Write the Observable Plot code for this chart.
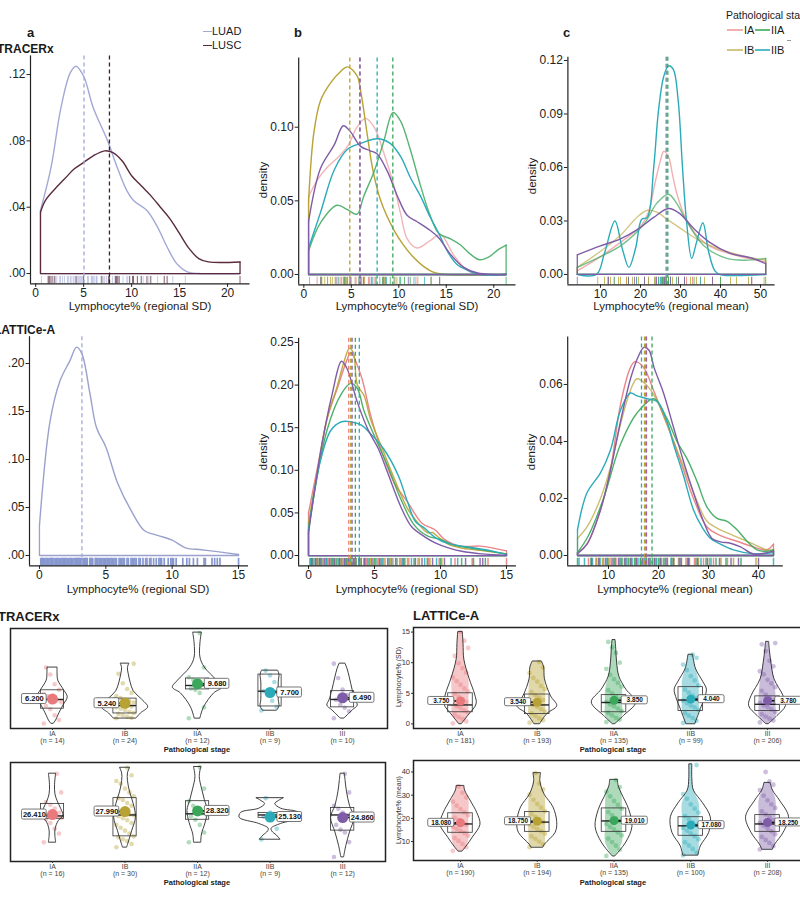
<!DOCTYPE html>
<html><head><meta charset="utf-8">
<script src="https://cdn.jsdelivr.net/npm/d3@7"></script>
<script src="https://cdn.jsdelivr.net/npm/@observablehq/plot@0.6"></script>
<style>
body{margin:0;background:#fff;font-family:"Liberation Sans",Arial,sans-serif;}
#page{position:relative;width:800px;height:898px;overflow:hidden;background:#fff;}
.pan{position:absolute;}
.lbl{position:absolute;white-space:nowrap;color:#1a1a1a;line-height:1;}
</style></head><body><div id="page"></div>
<script>
// ---------------- DATA ----------------
const stages = ["IA","IB","IIA","IIB","III"];
const stageColors = ["#E8797C","#B7A233","#3AA75A","#2BABB8","#7F5CA8"];

// Panel a (TRACERx) density of regional SD by histology
const luadSdDensity = [[0.5,0.038],[1.6,0.064],[2.6,0.099],[3.6,0.121],[4.2,0.125],[5,0.119],[6,0.1],[7.5,0.08],[8.5,0.064],[9.5,0.05],[10.2,0.044],[11.6,0.038],[12.7,0.028],[13.7,0.016],[14.7,0.006],[15.8,0.001],[17,0],[21.3,0]];
const luscSdDensity = [[0.5,0.037],[1,0.044],[2,0.051],[3,0.057],[4,0.063],[5,0.067],[6,0.071],[7.2,0.074],[8,0.073],[9,0.068],[10,0.059],[11,0.053],[12,0.047],[13,0.04],[14,0.033],[15,0.024],[16,0.015],[17,0.009],[18,0.007],[21.3,0.007]];
const luadSdRug = [0.6,1.8,1.9,2.2,2.5,2.6,2.8,3.0,3.3,3.4,3.6,3.7,3.9,4.0,4.3,4.4,4.5,4.6,4.7,4.8,4.9,5.4,5.5,5.8,5.85,5.9,6.0,6.1,6.3,6.35,6.4,6.8,7.1,7.2,7.4,8.0,8.6,9.1,9.5,9.6,11.2,11.8,12.7,14.3,15.6];
const luscSdRug = [1.3,1.4,1.5,1.7,2.0,4.2,5.0,6.9,7.6,7.7,8.3,8.4,8.5,8.7,9.8,10.1,10.2,10.6,11.0,11.6,12.0,13.4,13.7,21.3];
const histMedians = [5.04, 7.69];

// TRACERx per-tumour values by stage (IA, IB, IIA, IIB, III)
const tsSdValues = [
  [0.6,1.4,2.5,3.9,4.6,5.5,5.9,6.3,6.8,7.4,8.3,9.6,11.8,13.4],
  [1.8,1.9,2.2,2.5,2.8,3.0,3.3,3.7,4.0,4.3,4.5,4.6,4.8,5.0,5.4,5.8,6.1,6.4,6.9,7.6,8.5,9.8,12.0,14.3],
  [1.8,4.3,7.6,8.3,8.6,9.1,9.5,10.2,10.6,11.2,13.4,21.3],
  [3.6,4.4,5.8,7.2,8.0,8.7,10.1,11.6,12.7],
  [1.8,3.4,4.2,4.9,6.0,6.3,7.1,8.4,11.0,14.3]
];
const tsMeanValues = [
  [11.9,16.5,19.0,22.0,24.0,24.6,25.2,25.6,25.8,26.3,27.5,29.5,31.5,33.0,38.0,47.8],
  [9.3,11,12.5,13.5,14.5,15,16.5,18,19.5,21,22,23.5,24.5,25.5,26,26.4,27,28,29.5,31,32.5,34,35,36,38,40,42.5,44,47,50.9],
  [11.9,17,21,23.7,25.5,26.5,27,29,31,33.4,40,51.3],
  [13.4,19,24.5,25,25.3,25.8,26.2,27.5,35],
  [4.2,12,17,18.5,21,24,26,27.5,29.5,31,38,47.8]
];
// TRACERx density curves by stage
const tsSdDensity = [
  [[0.5,0.053],[1.5,0.065],[2.5,0.073],[3.5,0.079],[4.6,0.087],[5.6,0.1],[6.5,0.106],[7.4,0.1],[8.4,0.083],[9.5,0.06],[10.2,0.041],[10.9,0.024],[11.9,0.018],[13.3,0.023],[14.4,0.027],[15.8,0.013],[17.2,0.003],[18.5,0],[21.3,0]],
  [[0.5,0.05],[1.05,0.096],[1.75,0.118],[2.8,0.13],[3.9,0.138],[4.6,0.141],[5.6,0.135],[6,0.124],[6.7,0.094],[7.3,0.07],[8.1,0.05],[9.5,0.03],[10.5,0.02],[11.5,0.012],[12.5,0.006],[13.5,0.002],[15,0],[21.3,0]],
  [[0.5,0.016],[1.75,0.035],[3.5,0.047],[4.6,0.044],[5.6,0.041],[6.3,0.053],[7.4,0.07],[8.4,0.09],[9.4,0.11],[10.2,0.104],[11.2,0.085],[12.3,0.06],[13.3,0.04],[14.2,0.028],[15.5,0.024],[16.5,0.02],[17.5,0.014],[18.5,0.01],[19.5,0.012],[20.5,0.017],[21.3,0.02]],
  [[0.5,0.018],[1.75,0.042],[3.2,0.071],[4.6,0.085],[6,0.089],[7.4,0.092],[8.1,0.092],[9.1,0.089],[10.2,0.08],[11.2,0.066],[12.3,0.053],[13.3,0.039],[14.2,0.028],[15.1,0.016],[16.1,0.007],[17.2,0.003],[18.6,0],[21.3,0]],
  [[0.5,0.036],[1.75,0.072],[3.2,0.088],[4.16,0.101],[4.9,0.097],[5.97,0.087],[7,0.084],[7.7,0.082],[8.8,0.07],[9.8,0.054],[10.9,0.04],[11.9,0.036],[13.3,0.03],[14.2,0.025],[15.4,0.014],[16.8,0.005],[18.3,0.001],[20,0],[21.3,0]]
];
const tsSdMedians = [5.88, 4.84, 9.37, 7.72, 5.92];
const tsMeanDensity = [
  [[4.2,0.002],[10,0.01],[15,0.018],[20,0.027],[22,0.035],[23.5,0.05],[25,0.064],[25.8,0.069],[27,0.066],[28,0.056],[29,0.046],[31,0.033],[34,0.022],[38,0.015],[45,0.01],[51.3,0.007]],
  [[4.2,0.004],[10,0.013],[15,0.022],[19.1,0.032],[21.7,0.036],[24.1,0.035],[26.6,0.031],[29.9,0.026],[34,0.02],[39.9,0.014],[46.5,0.01],[51.3,0.008]],
  [[4.2,0.004],[10,0.01],[15,0.016],[20.8,0.028],[24.1,0.04],[27,0.045],[29,0.04],[31.5,0.03],[35.9,0.016],[41.6,0.009],[46,0.008],[51.3,0.009]],
  [[4.2,0],[9,0],[11,0.012],[13.6,0.03],[15.5,0.014],[17.1,0.004],[18.8,0.015],[20.3,0.031],[21.7,0.032],[23.3,0.06],[24.5,0.092],[25.8,0.111],[27,0.117],[28.2,0.115],[29.4,0.098],[30.5,0.06],[31.5,0.03],[32.8,0.009],[34,0.018],[35.6,0.029],[37,0.013],[38.6,0.002],[39.9,0],[51.3,0]],
  [[4.2,0.011],[10,0.016],[15,0.02],[19.1,0.025],[23.3,0.032],[27,0.037],[29.9,0.034],[33.2,0.026],[37.3,0.018],[42.3,0.012],[48.1,0.009],[51.3,0.006]]
];
const tsMeanMedians = [26.3, 26.6, 26.9, 26.5, 26.7];

// LATTICe-A
const latSdAllDensity = [[0,0.031],[0.8,0.14],[1.55,0.182],[2.3,0.203],[2.8,0.217],[3.2,0.21],[3.8,0.169],[4.3,0.133],[5,0.113],[5.9,0.075],[6.9,0.047],[7.9,0.026],[8.9,0.021],[10,0.016],[11,0.008],[12.2,0.006],[13.4,0.004],[15,0.001]];
const latSdAllMedian = 3.2;
const latSdValues = [
  [0.1,0.4,0.8,1.1,1.5,1.9,2.2,2.6,2.9,3.3,3.6,4.0,4.4,4.9,5.3,5.8,6.4,7.0,7.6,8.4,9.1,9.9,11.1,12.4,13.6,15.0],
  [0.2,0.6,0.9,1.3,1.7,2.0,2.4,2.8,3.1,3.5,3.9,4.3,4.7,5.2,5.7,6.2,6.9,7.5,8.3,9.2,10.1],
  [0.3,0.7,1.0,1.4,1.8,2.1,2.5,2.9,3.2,3.6,4.0,4.5,5.0,5.5,6.1,6.7,7.3,8.0,9.0,10.0,11.6,12.5,13.4],
  [0.15,0.5,0.95,1.35,1.75,2.3,2.7,3.0,3.4,3.8,4.2,4.6,5.1,5.6,6.3,7.1,7.8,8.8,9.7,10.8,11.3],
  [0.25,0.55,0.85,1.2,1.6,1.95,2.35,2.75,3.05,3.45,3.85,4.25,4.8,5.4,6.0,6.6,7.2,8.1,8.6,9.4,10.3,11.9,13.0,13.2]
];
const latMeanValues = [
  [6.0,7.5,9.0,10.3,11.5,12.6,13.7,14.6,15.5,16.4,17.3,18.2,19.2,20.3,21.4,22.6,24.0,25.5,27.2,29.0,31.0,33.8],
  [7.6,8.8,10.0,11.2,12.3,13.4,14.4,15.4,16.4,17.4,18.4,19.5,20.6,21.8,23.1,24.6,26.2,28.0,30.2,32.5,35.0,39.5],
  [3.8,6.5,8.2,9.8,11.3,12.7,14.0,15.2,16.4,17.6,18.8,20.0,21.3,22.7,24.2,25.8,27.5,29.5,31.5,33.5,36.5],
  [4.1,5.2,6.8,8.3,9.7,11.0,12.3,13.5,14.7,15.9,17.1,18.3,19.6,21.0,22.5,24.2,26.0,28.5,30.5,43.0],
  [6.6,8.0,9.4,10.7,12.0,13.2,14.4,15.6,16.8,18.0,19.2,20.4,21.7,23.0,24.5,26.0,27.8,29.8,32.2,34.5,36.0,40.0]
];
const latSdDensity = [
  [[0,0.05],[0.7,0.105],[1.4,0.16],[2.2,0.197],[2.9,0.229],[3.2,0.238],[4,0.21],[4.7,0.165],[5.5,0.124],[6.5,0.085],[7.5,0.063],[8.6,0.038],[9.6,0.03],[10.3,0.019],[11.5,0.011],[13,0.011],[15,0.0055]],
  [[0,0.039],[0.7,0.1],[1.4,0.16],[2.2,0.2],[2.7,0.228],[3.1,0.243],[3.4,0.238],[3.7,0.2],[4.2,0.188],[4.7,0.16],[5.5,0.129],[6.5,0.09],[7.5,0.055],[8.2,0.04],[9,0.027],[9.4,0.027],[9.8,0.022],[10.5,0.014],[11.5,0.009],[13,0.006],[15,0.002]],
  [[0,0.03],[1.4,0.147],[2.5,0.19],[3.2,0.202],[3.7,0.196],[4.2,0.17],[5,0.14],[6,0.105],[7,0.066],[8,0.036],[9,0.023],[10,0.019],[11.1,0.012],[12.6,0.008],[14.1,0.004],[15,0.002]],
  [[0,0.03],[0.9,0.111],[1.7,0.147],[2.5,0.157],[3.2,0.157],[4,0.153],[4.7,0.143],[5.7,0.125],[6.8,0.094],[7.5,0.063],[8.1,0.04],[8.8,0.032],[9.6,0.021],[10.6,0.014],[12.1,0.01],[13.7,0.006],[15,0.001]],
  [[0,0.026],[0.9,0.12],[1.8,0.19],[2.5,0.228],[2.9,0.22],[3.7,0.18],[4.5,0.148],[5.3,0.125],[6,0.097],[7,0.057],[7.8,0.034],[8.8,0.022],[9.6,0.015],[10.6,0.009],[11.6,0.005],[13.1,0.002],[15,0.0005]]
];
const latSdMedians = [3.05, 3.2, 3.55, 3.85, 3.3];
const latMeanDensity = [
  [[3.8,0.001],[5.7,0.004],[8.4,0.016],[10.4,0.03],[12.4,0.053],[14.4,0.066],[15.3,0.068],[17,0.066],[19,0.058],[21,0.049],[23,0.04],[25,0.03],[27,0.02],[29.7,0.01],[32.4,0.007],[35.7,0.005],[39,0.003],[41.7,0.002],[43,0.004]],
  [[3.8,0.006],[5.7,0.01],[8.4,0.02],[10.4,0.031],[12.4,0.046],[14.4,0.058],[15.7,0.062],[17.5,0.06],[19.5,0.055],[21.5,0.047],[23.5,0.038],[25.5,0.029],[27.5,0.02],[29.7,0.012],[32.4,0.009],[35,0.007],[39,0.004],[41.7,0.002],[43,0.002]],
  [[3.8,0.001],[6,0.007],[9,0.02],[12.4,0.039],[15.7,0.05],[19.1,0.055],[21.7,0.048],[23.7,0.04],[25.7,0.034],[27.7,0.026],[29.7,0.017],[31.7,0.013],[33.7,0.012],[35.7,0.009],[37.7,0.005],[39.7,0.002],[41.7,0.0015],[43,0.002]],
  [[3.8,0.009],[5.7,0.022],[8.4,0.029],[10.4,0.037],[12.4,0.051],[14.4,0.057],[15.7,0.056],[17.7,0.055],[19.7,0.054],[21.7,0.047],[23,0.039],[25,0.028],[27,0.016],[28.7,0.01],[30.4,0.006],[32.4,0.004],[35,0.002],[39,0.0006],[43,0.001]],
  [[3.8,0.0006],[5.7,0.004],[8.4,0.016],[10.4,0.03],[12.4,0.047],[14.4,0.062],[16,0.07],[17.1,0.073],[18.1,0.072],[19.1,0.066],[21,0.057],[23,0.045],[25,0.033],[27,0.022],[29,0.012],[30.7,0.006],[32.4,0.0048],[34.4,0.0043],[36.4,0.003],[39,0.0005],[41.7,0.001],[43,0.0015]]
];
const latMeanMedians = [17.6, 17.2, 18.7, 16.6, 17.5];

// Violin summaries: shapes [value, half-width], boxes [q1, median, q3], means
const tsSdShapes = [
  [[0.6,0.02],[1.3,0.05],[2.4,0.08],[4.7,0.15],[6.6,0.21],[8.2,0.16],[10.4,0.08],[12,0.07],[13.4,0.07]],
  [[1.8,0.16],[2.9,0.22],[4.3,0.32],[5.5,0.27],[6.6,0.2],[8,0.12],[9.8,0.08],[12,0.05],[13.3,0.04],[14.3,0.06]],
  [[1.8,0.04],[4.3,0.09],[7.5,0.23],[8.8,0.34],[10.4,0.27],[13.4,0.1],[15.7,0.04],[18.9,0.04],[21.4,0.06]],
  [[3.6,0.1],[4.5,0.13],[6,0.12],[8,0.12],[10,0.12],[11.8,0.13],[12.7,0.11]],
  [[1.8,0.03],[3.6,0.14],[4.7,0.21],[5.9,0.18],[8.2,0.14],[11.1,0.1],[13,0.07],[14.3,0.04]]
];
const tsSdBoxes = [[4.0,6.1,8.2],[2.9,4.7,6.3],[8.4,9.3,10.9],[4.5,8.0,11.8],[4.3,6.1,8.0]];
const tsSdMeans = [6.20, 5.24, 9.68, 7.70, 6.49];
const tsSdN = [14, 24, 12, 9, 10];

const tsMeanShapes = [
  [[11.9,0.05],[15,0.04],[18,0.04],[21,0.06],[23.2,0.09],[25.7,0.15],[29.3,0.12],[33.4,0.07],[37,0.04],[42,0.035],[47.8,0.05]],
  [[9.3,0.03],[12.9,0.06],[18,0.1],[24.7,0.15],[31.9,0.12],[38,0.07],[44,0.04],[48,0.04],[50.9,0.07]],
  [[11.9,0.05],[16,0.06],[22,0.11],[28.3,0.14],[34,0.1],[40,0.06],[46,0.03],[51.3,0.05]],
  [[13.4,0.14],[15.5,0.09],[17.5,0.03],[19,0.02],[21.5,0.15],[24.7,0.42],[27.3,0.4],[29.5,0.15],[31.9,0.07],[33.5,0.12],[35,0.19]],
  [[4.2,0.02],[10,0.05],[17,0.1],[24.7,0.16],[31,0.1],[38,0.06],[44,0.04],[47.8,0.03]]
];
const tsMeanBoxes = [[24.2,25.7,31.9],[15,26.2,35],[23.7,26.8,33.4],[24.7,26.2,27.3],[18,26.2,29.8]];
const tsMeanMeans = [26.41, 27.99, 28.32, 25.13, 24.86];
const tsMeanN = [16, 30, 12, 9, 12];

const latSdShapes = [
  [[0,0.02],[1.3,0.1],[3.2,0.21],[4.8,0.19],[7.3,0.12],[10.5,0.05],[13,0.04],[15,0.03]],
  [[0,0.04],[1.6,0.13],[2.9,0.26],[4.5,0.18],[7.3,0.1],[9.2,0.09],[10.2,0.06]],
  [[0,0.02],[1.3,0.13],[3.5,0.29],[5.6,0.16],[7.7,0.07],[10,0.04],[12,0.03],[13.7,0.02]],
  [[0,0.06],[2.4,0.13],[4,0.18],[5.6,0.21],[6.9,0.16],[8.9,0.07],[10.5,0.04],[11.3,0.03]],
  [[0,0.02],[1.3,0.13],[2.9,0.24],[4.5,0.21],[7.3,0.09],[10,0.05],[12,0.03],[13.4,0.02]]
];
const latSdBoxes = [[1.9,3.1,5.0],[1.6,3.1,4.8],[1.9,3.5,4.7],[2.1,3.9,6.0],[2.1,3.2,4.5]];
const latSdMeans = [3.75, 3.54, 3.85, 4.04, 3.78];
const latSdN = [181, 193, 135, 99, 206];

const latMeanShapes = [
  [[5.8,0.03],[7.9,0.08],[11.7,0.16],[17.2,0.26],[22.2,0.22],[27.7,0.13],[32,0.06],[34,0.05]],
  [[7.5,0.08],[8.7,0.1],[13.8,0.24],[18.4,0.26],[24.8,0.21],[30,0.1],[33.2,0.06],[36,0.04],[39.5,0.05]],
  [[3.7,0.02],[9.6,0.16],[16.3,0.24],[23.5,0.2],[30.7,0.1],[34,0.06],[36.6,0.05]],
  [[4.1,0.1],[7.9,0.13],[13.8,0.24],[20.5,0.26],[26.5,0.16],[32,0.04],[37,0.02],[43.3,0.02]],
  [[6.6,0.07],[8.7,0.1],[13.8,0.21],[20.5,0.28],[27.7,0.16],[32,0.07],[35.3,0.04]]
];
const latMeanBoxes = [[13.8,17.6,22.2],[14.2,18.4,22.7],[14.2,18.9,24.3],[12.5,16.8,20.5],[14.2,17.6,21.4]];
const latMeanMeans = [18.08, 18.75, 19.01, 17.08, 18.25];
const latMeanN = [190, 194, 135, 100, 208];

// ---------------- HELPERS ----------------
const page = document.getElementById("page");
const FONT = "'Liberation Sans', Arial, sans-serif";
function addText(txt, left, top, css) {
  const d = document.createElement("div"); d.className = "lbl"; d.textContent = txt;
  d.style.left = left + "px"; d.style.top = top + "px"; Object.assign(d.style, css || {});
  page.appendChild(d); return d;
}
function addCentered(txt, cx, cy, css) {
  const d = addText(txt, cx, cy, css); d.style.transform = "translate(-50%,-50%)"; return d;
}
function addRotated(txt, cx, cy, css) {
  const d = addText(txt, cx, cy, css); d.style.transform = "translate(-50%,-50%) rotate(-90deg)"; return d;
}
function legendKey(x, y, w, color, h, op) {
  const d = document.createElement("div");
  Object.assign(d.style, {position:"absolute", left:x+"px", top:(y-(h||1.5)/2)+"px", width:w+"px", height:(h||1.5)+"px", background:color, opacity: op ?? 1});
  page.appendChild(d);
}
function mount(svg, left, top, width) {
  const div = document.createElement("div"); div.className = "pan";
  div.style.left = left + "px"; div.style.top = top + "px"; div.style.width = width + "px";
  div.appendChild(svg); page.appendChild(div);
}

function densityPanel(o) {
  const [yl, yh] = o.yDomain;
  const rugTop = yl + 0.033 * (yh - yl);
  const marks = [];
  o.rugs.forEach(r => marks.push(Plot.ruleX(r.values, {x: d => d, y1: () => yl, y2: () => rugTop, stroke: r.color, strokeOpacity: r.opacity ?? 0.85, strokeWidth: o.rugWidth ?? 0.9})));
  o.curves.forEach(c => {
    const p = c.pts, f = p[0], l = p[p.length - 1];
    marks.push(Plot.line([l, [l[0], 0], [f[0], 0], f], {x: d => d[0], y: d => d[1], stroke: c.color, strokeOpacity: c.opacity ?? 1, strokeWidth: 1.3}));
    marks.push(Plot.line(p, {x: d => d[0], y: d => d[1], curve: "catmull-rom", stroke: c.color, strokeOpacity: c.opacity ?? 1, strokeWidth: c.width ?? 1.4}));
  });
  o.vlines.forEach(v => marks.push(Plot.ruleX([v.x], {stroke: v.color, strokeDasharray: "4,3", strokeWidth: 1.3, strokeOpacity: o.vOpacity ?? 1})));
  marks.push(Plot.ruleX([o.xDomain[0]], {stroke: "#222", strokeWidth: 1.2}));
  marks.push(Plot.ruleY([yl], {stroke: "#222", strokeWidth: 1.2}));
  marks.push(Plot.axisX({ticks: o.xTicks, tickSize: 3.5, tickPadding: 1, label: null, tickFormat: d => String(d)}));
  marks.push(Plot.axisY({ticks: o.yTicks, tickSize: 3.5, tickPadding: 1.5, label: null, tickFormat: o.yFormat}));
  const [L, T, W, H] = o.box, [x0, x1, y0, y1] = o.frame;
  const svg = Plot.plot({
    width: W, height: H, marginLeft: x0 - L, marginRight: L + W - x1, marginTop: y0 - T, marginBottom: T + H - y1,
    x: {domain: o.xDomain}, y: {domain: o.yDomain},
    style: {fontFamily: FONT, fontSize: "12px", color: "#222", background: "transparent", overflow: "visible"},
    marks
  });
  mount(svg, L, T, W);
}

function violinPanel(o) {
  const [yl, yh] = o.yDomain;
  const [L, T, W, H] = o.box, [x0, x1, y0, y1] = o.frame;
  const pxY = (yh - yl) / (y1 - y0);
  const marks = [];
  o.shapes.forEach((shape, i) => {
    const c = i + 1, col = stageColors[i];
    if (o.cloud) marks.push(Plot.areaX(shape, {y: d => d[0], x1: d => c - Math.min(d[1], o.cloud), x2: d => c + Math.min(d[1], o.cloud), curve: "catmull-rom", fill: col, fillOpacity: 0.42}));
    marks.push(Plot.dot(o.points[i], {x: (d, k) => c + (((k * 7) % 9) - 4) * o.jit, y: d => d, r: o.pr, fill: col, fillOpacity: 0.4}));
    marks.push(Plot.areaX(shape, {y: d => d[0], x1: d => c - d[1], x2: d => c + d[1], curve: "catmull-rom", fill: "none", stroke: "#2a2a2a", strokeWidth: 0.9}));
    marks.push(Plot.rect([o.boxes[i]], {x1: () => c - o.bw, x2: () => c + o.bw, y1: d => d[0], y2: d => d[2], fill: "none", stroke: "#333", strokeWidth: 0.8}));
    marks.push(Plot.ruleY([o.boxes[i][1]], {x1: () => c - o.bw, x2: () => c + o.bw, stroke: "#222", strokeWidth: 1.4}));
    const left = i < 2;
    const a = left ? -0.42 : 0.1, b = left ? -0.08 : 0.44;
    const edge = left ? b : a;
    const m = o.means[i];
    marks.push(Plot.link([m], {x1: () => c, x2: () => c + edge, y1: d => d, y2: d => d, stroke: "#111", strokeWidth: 1.6}));
    marks.push(Plot.dot([m], {x: () => c, y: d => d, r: o.mr, fill: col}));
    marks.push(Plot.rect([m], {x1: () => c + a, x2: () => c + b, y1: d => d - o.lh * pxY, y2: d => d + o.lh * pxY, fill: "white", stroke: "#555", strokeWidth: 0.8, rx: 1.5}));
    marks.push(Plot.text([m], {x: () => c + (a + b) / 2, y: d => d, text: d => d3.format(".3f")(d), fontSize: o.lf, fontWeight: "bold", fill: "#111"}));
  });
  marks.push(Plot.frame({stroke: "#222", strokeWidth: 1.5}));
  marks.push(Plot.axisX({ticks: [1, 2, 3, 4, 5], tickFormat: k => `${stages[k - 1]}\n(n = ${o.ns[k - 1]})`, tickSize: 2, tickPadding: 1, label: null, fontSize: 7, lineHeight: 1, fill: "#444"}));
  if (o.yTicks) marks.push(Plot.axisY({ticks: o.yTicks, tickSize: 2, tickPadding: 1.5, label: null, fontSize: 7.5, fill: "#333"}));
  const svg = Plot.plot({
    width: W, height: H, marginLeft: x0 - L, marginRight: L + W - x1, marginTop: y0 - T, marginBottom: T + H - y1,
    x: {domain: o.xDomain}, y: {domain: o.yDomain, axis: o.yTicks ? undefined : null},
    style: {fontFamily: FONT, fontSize: "7px", color: "#333", background: "transparent", overflow: "visible"},
    marks
  });
  mount(svg, L, T, W);
}

const f2 = d3.format(".2f");
const fNoLead = d => f2(d).replace(/^0/, "");
const stageRugs = vals => vals.map((v, i) => ({values: v, color: stageColors[i]}));
const stageCurves = (dens, op) => dens.map((p, i) => ({pts: p, color: stageColors[i], opacity: op[i]}));
const stageVlines = meds => meds.map((x, i) => ({x, color: stageColors[i]}));

// ---------------- DENSITY PANELS ----------------
densityPanel({box: [0, 50, 258, 255], frame: [30, 249.5, 55.4, 283.4], xDomain: [-0.54, 22.34], yDomain: [-0.00625, 0.13125],
  xTicks: [0, 5, 10, 15, 20], yTicks: [0, 0.04, 0.08, 0.12], yFormat: fNoLead,
  rugs: [{values: luadSdRug, color: "#b4bbe0"}, {values: luscSdRug, color: "#5a2b3e"}],
  curves: [{pts: luadSdDensity, color: "#a3a9d6"}, {pts: luscSdDensity, color: "#5a2b3e"}],
  vlines: [{x: histMedians[0], color: "#a3a9d6"}, {x: histMedians[1], color: "#3e1f2e"}]});

densityPanel({box: [262, 50, 262, 255], frame: [298.2, 515.5, 57.5, 284.3], xDomain: [-0.54, 22.34], yDomain: [-0.007, 0.147],
  xTicks: [0, 5, 10, 15, 20], yTicks: [0, 0.05, 0.1], yFormat: f2,
  rugs: stageRugs(tsSdValues), curves: stageCurves(tsSdDensity, [0.55, 1, 0.85, 1, 1]), vlines: stageVlines(tsSdMedians)});

densityPanel({box: [530, 50, 255, 255], frame: [567.4, 774.6, 56.8, 284.3], xDomain: [1.85, 53.65], yDomain: [-0.0058, 0.1218],
  xTicks: [10, 20, 30, 40, 50], yTicks: [0, 0.03, 0.06, 0.09, 0.12], yFormat: f2, vOpacity: 0.6,
  rugs: stageRugs(tsMeanValues), curves: stageCurves(tsMeanDensity, [0.6, 0.6, 0.7, 1, 1]), vlines: stageVlines(tsMeanMedians)});

densityPanel({box: [0, 330, 256, 255], frame: [29, 248, 336.2, 565.4], xDomain: [-0.75, 15.75], yDomain: [-0.01085, 0.2279],
  xTicks: [0, 5, 10, 15], yTicks: [0, 0.05, 0.1, 0.15, 0.2], yFormat: fNoLead, rugWidth: 1.7,
  rugs: [{values: latSdValues.flat(), color: "#8797cf", opacity: 1}],
  curves: [{pts: latSdAllDensity, color: "#9aa1cc"}],
  vlines: [{x: latSdAllMedian, color: "#a3a9d6"}]});

densityPanel({box: [262, 330, 262, 255], frame: [298.1, 515.9, 337.7, 565.4], xDomain: [-0.75, 15.75], yDomain: [-0.01215, 0.255],
  xTicks: [0, 5, 10, 15], yTicks: [0, 0.05, 0.1, 0.15, 0.2, 0.25], yFormat: f2, rugWidth: 1.5,
  rugs: stageRugs(latSdValues), curves: stageCurves(latSdDensity, [0.9, 0.9, 0.9, 1, 1]), vlines: stageVlines(latSdMedians)});

densityPanel({box: [530, 330, 262, 255], frame: [567.2, 782.8, 336.5, 565.4], xDomain: [1.84, 44.96], yDomain: [-0.00365, 0.07665],
  xTicks: [10, 20, 30, 40], yTicks: [0, 0.02, 0.04, 0.06], yFormat: f2, rugWidth: 1.5,
  rugs: stageRugs(latMeanValues), curves: stageCurves(latMeanDensity, [0.9, 0.7, 0.9, 1, 1]), vlines: stageVlines(latMeanMedians)});

// ---------------- VIOLIN PANELS ----------------
violinPanel({box: [0, 620, 400, 130], frame: [10, 387, 628, 728], xDomain: [0.421, 5.62], yDomain: [-0.54, 22.34],
  shapes: tsSdShapes, boxes: tsSdBoxes, means: tsSdMeans, ns: tsSdN, points: tsSdValues,
  jit: 0.03, pr: 2.3, bw: 0.16, mr: 5.5, lh: 5, lf: 7.5});
violinPanel({box: [0, 755, 400, 130], frame: [10, 385, 762, 861], xDomain: [0.421, 5.59], yDomain: [1.84, 53.66],
  shapes: tsMeanShapes, boxes: tsMeanBoxes, means: tsMeanMeans, ns: tsMeanN, points: tsMeanValues,
  jit: 0.03, pr: 2.3, bw: 0.16, mr: 5.5, lh: 5, lf: 7.5});
violinPanel({box: [395, 620, 450, 130], frame: [413, 830, 627, 728], xDomain: [0.388, 5.82], yDomain: [-0.75, 15.75],
  shapes: latSdShapes, boxes: latSdBoxes, means: latSdMeans, ns: latSdN, points: latSdValues, yTicks: [0, 5, 10, 15],
  cloud: 0.11, jit: 0.025, pr: 2.4, bw: 0.16, mr: 4.5, lh: 4, lf: 6.5});
violinPanel({box: [395, 752, 450, 133], frame: [413, 830, 760, 860], xDomain: [0.388, 5.82], yDomain: [1.84, 44.96],
  shapes: latMeanShapes, boxes: latMeanBoxes, means: latMeanMeans, ns: latMeanN, points: latMeanValues, yTicks: [10, 20, 30, 40],
  cloud: 0.11, jit: 0.025, pr: 2.4, bw: 0.16, mr: 4.5, lh: 4, lf: 6.5});

// ---------------- TEXT ----------------
addText("a", 27, 26, {fontWeight: "bold", fontSize: "13px"});
addText("b", 294, 26, {fontWeight: "bold", fontSize: "13px"});
addText("c", 563, 26, {fontWeight: "bold", fontSize: "13px"});
addText("TRACERx", -3, 43, {fontWeight: "bold", fontSize: "12px"});
addText("LATTICe-A", -6, 324, {fontWeight: "bold", fontSize: "12px"});

// legend a
const lg = {fontSize: "11px"};
legendKey(203, 31.5, 9, "#a3a9d6"); addText("LUAD", 212, 26, lg);
legendKey(203, 45.5, 9, "#5a2b3e"); addText("LUSC", 212, 40, lg);
// legend c
addText("Pathological stage", 726, 10, {fontSize: "10.5px"});
legendKey(727, 30, 16, stageColors[0], 1.2, 0.6); addText("IA", 744, 25, lg);
legendKey(755, 30, 15, stageColors[2], 1.2, 0.8); addText("IIA", 771, 25, lg);
legendKey(727, 50, 16, stageColors[1], 1.2, 0.6); addText("IB", 744, 45, lg);
legendKey(755, 50, 15, stageColors[3], 1.2, 0.8); addText("IIB", 771, 45, lg);
legendKey(787, 40, 4, "#999", 1);

// axis titles density
const at = {fontSize: "11.5px"};
addCentered("Lymphocyte% (regional SD)", 140, 307, at);
addCentered("Lymphocyte% (regional SD)", 407, 307, at);
addCentered("Lymphocyte% (regional mean)", 671, 307, at);
addCentered("Lymphocyte% (regional SD)", 138, 590, at);
addCentered("Lymphocyte% (regional SD)", 407, 590, at);
addCentered("Lymphocyte% (regional mean)", 675, 590, at);
addRotated("density", 264, 180, at);
addRotated("density", 533, 176, at);
addRotated("density", 264, 452, at);
addRotated("density", 532, 452, at);

// bottom section
addText("TRACERx", -2, 610, {fontWeight: "bold", fontSize: "13px"});
addText("LATTICe-A", 413, 609, {fontWeight: "bold", fontSize: "13px"});
const ps = {fontWeight: "bold", fontSize: "7.5px", color: "#222"};
addCentered("Pathological stage", 197, 750, ps);
addCentered("Pathological stage", 197, 883, ps);
addCentered("Pathological stage", 613, 750, ps);
addCentered("Pathological stage", 613, 883, ps);
addRotated("Lymphocyte% (SD)", 398, 677, {fontSize: "7px", color: "#333"});
addRotated("Lymphocyte% (mean)", 398, 810, {fontSize: "7px", color: "#333"});
</script></body></html>
